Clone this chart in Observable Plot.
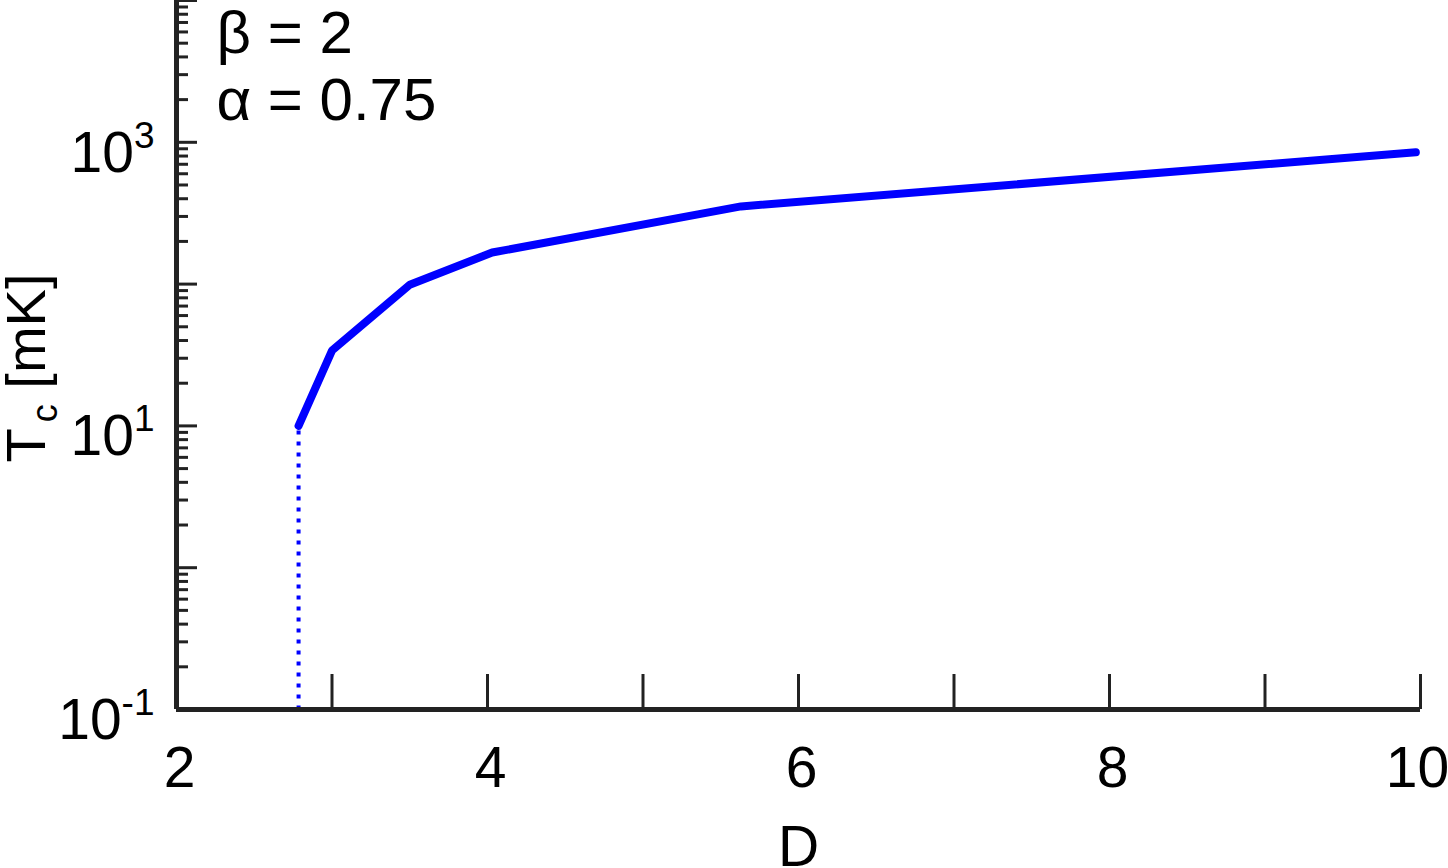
<!DOCTYPE html>
<html><head><meta charset="utf-8">
<script src="https://cdn.jsdelivr.net/npm/d3@7"></script>
<script src="https://cdn.jsdelivr.net/npm/@observablehq/plot@0.6"></script>
<style>
html,body{margin:0;padding:0;background:#fff;}
svg{display:block;}
</style>
</head><body><div id="chart"></div>
<script>
// Data
const dValues = [2.785, 3.0, 3.5, 4.03, 5.63, 9.97];
const tcValues = [10, 34, 99, 167, 353, 850];
const onsetD = [2.785, 2.785];
const onsetTc = [0.1, 10];
// Axes
const xTicks = [3, 4, 5, 6, 7, 8, 9, 10];
const xTickLabels = [2, 4, 6, 8];
const xTickLabelsEdge = [10];
const yMajorTicks = [0.1, 1, 10, 100, 1000, 10000];
const yLabelTicks = [0.1, 10, 1000];
const yLabelExponents = ["-1", "1", "3"];
const annotationText = "β = 2\nα = 0.75";
const xLabel = "D";
const yLabel = "T";
const yLabelSub = "c";
const yLabelUnit = " [mK]";

const yMinorTicks = [];
for (let e = -1; e < 4; e++) for (let m = 2; m <= 9; m++) yMinorTicks.push(m * Math.pow(10, e));

const curve = dValues.map((d, i) => ({D: d, Tc: tcValues[i]}));
const onset = onsetD.map((d, i) => ({D: d, Tc: onsetTc[i]}));

const font = "Liberation Sans, Arial, sans-serif";
const axisColor = "#222";

const chart = Plot.plot({
  width: 1448,
  height: 868,
  marginLeft: 176,
  marginRight: 28,
  marginTop: 0,
  marginBottom: 159,
  style: {fontFamily: font, background: "#fff", overflow: "visible"},
  x: {domain: [2, 10], axis: null},
  y: {type: "log", domain: [0.1, 10000], axis: null},
  marks: [
    // dotted onset line
    Plot.line(onset, {x: "D", y: "Tc", stroke: "#0000ff", strokeWidth: 4, strokeDasharray: "4,7", strokeLinecap: "butt"}),
    // main curve
    Plot.line(curve, {x: "D", y: "Tc", stroke: "#0000ff", strokeWidth: 8, strokeLinejoin: "miter"}),
    // x ticks (inward)
    Plot.axisX({ticks: xTicks, tickSize: -35, strokeWidth: 3, stroke: axisColor, fill: "none", label: null, tickFormat: () => ""}),
    // x labels
    Plot.axisX({ticks: xTickLabels, tickSize: 0, tickPadding: 37, dx: 3, fontSize: 57, fill: "#000", label: null, tickFormat: d => String(d)}),
    Plot.axisX({ticks: xTickLabelsEdge, tickSize: 0, tickPadding: 37, dx: -3, fontSize: 57, fill: "#000", label: null, tickFormat: d => String(d)}),
    // y ticks (inward)
    Plot.axisY({ticks: yMajorTicks, tickSize: -21, strokeWidth: 3, stroke: axisColor, fill: "none", label: null, tickFormat: () => ""}),
    Plot.axisY({ticks: yMinorTicks, tickSize: -12, strokeWidth: 3, stroke: axisColor, fill: "none", label: null, tickFormat: () => ""}),
    // y labels
    Plot.axisY({ticks: yLabelTicks, tickSize: 0, tickPadding: 22, fontSize: 57, dy: 11, fill: "#000", label: null, tickFormat: () => "10"}),
    // axis lines
    Plot.ruleX([2], {stroke: axisColor, strokeWidth: 5}),
    Plot.ruleY([0.1], {stroke: axisColor, strokeWidth: 5}),
    // annotation
    Plot.text([annotationText], {frameAnchor: "top-left", dx: 40, dy: 5, lineAnchor: "top", textAnchor: "start", fontSize: 60, lineHeight: 1.12, fill: "#000"}),
    // x axis label
    Plot.text([xLabel], {frameAnchor: "bottom", dy: 116, lineAnchor: "top", fontSize: 57, fill: "#000"}),
    // y axis label
    Plot.text([yLabel], {frameAnchor: "left", dx: -132, dy: 13, rotate: -90, lineAnchor: "bottom", textAnchor: "middle", fontSize: 56, fill: "#000", className: "ytitle"})
  ]
});

document.getElementById("chart").appendChild(chart);

// superscripts for log labels
const ns = "http://www.w3.org/2000/svg";
const yTickLabelTexts = Array.from(chart.querySelectorAll("g[aria-label='y-axis tick label'] text"));
yTickLabelTexts.forEach((t, i) => {
  const sup = document.createElementNS(ns, "tspan");
  sup.setAttribute("dy", "-24");
  sup.setAttribute("font-size", "37");
  sup.textContent = yLabelExponents[i];
  t.appendChild(sup);
});
// subscript and unit for y title
const yt = chart.querySelector(".ytitle text") || chart.querySelector("g.ytitle text");
if (yt) {
  const sub = document.createElementNS(ns, "tspan");
  sub.setAttribute("dy", "12");
  sub.setAttribute("font-size", "36");
  sub.setAttribute("dx", "6");
  sub.textContent = yLabelSub;
  const unit = document.createElementNS(ns, "tspan");
  unit.setAttribute("dy", "-12");
  unit.textContent = yLabelUnit;
  yt.appendChild(sub);
  yt.appendChild(unit);
}
</script>
</body></html>
